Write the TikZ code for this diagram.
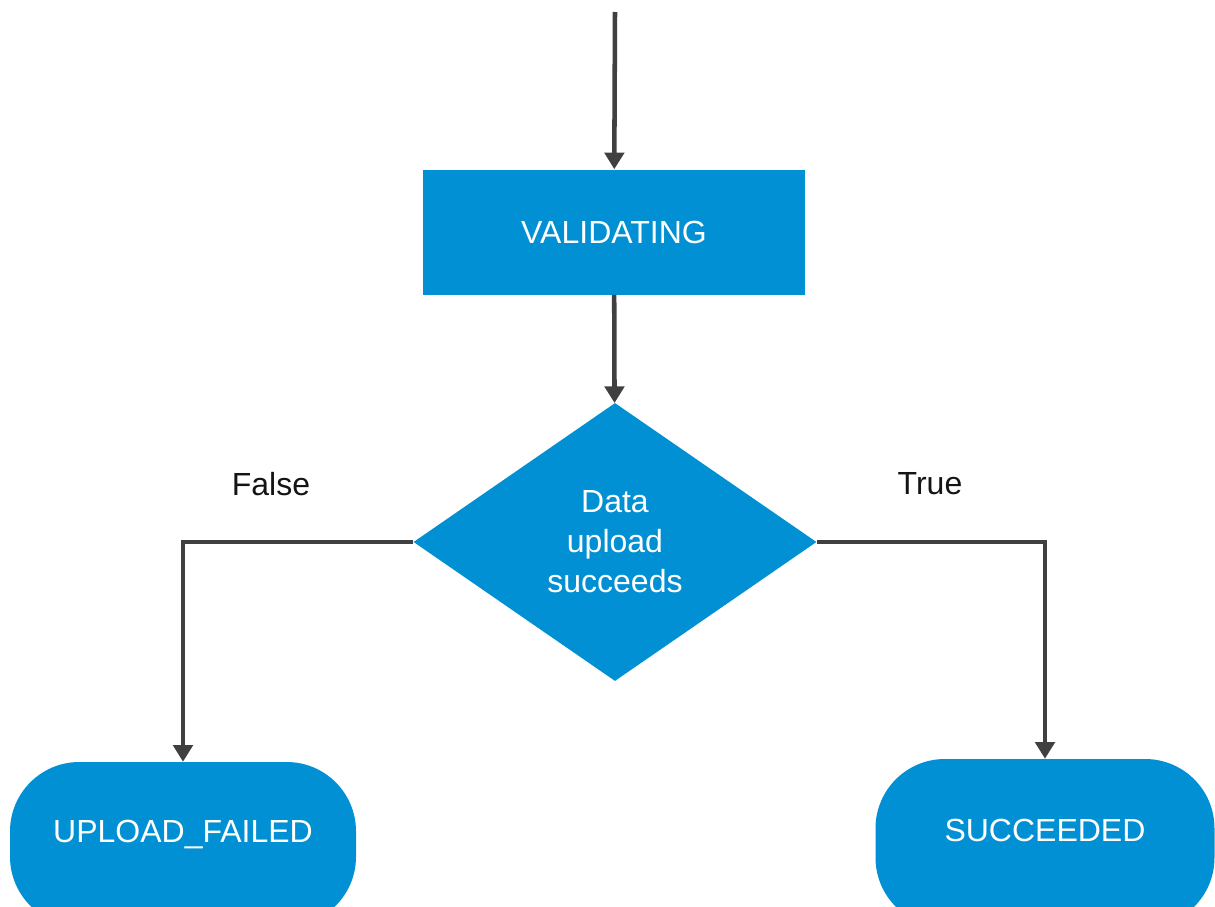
\documentclass[tikz,border=0pt]{standalone}
\usepackage{fontspec}
\setmainfont{Liberation Sans}
\usetikzlibrary{arrows.meta,shapes.geometric}

\begin{document}
\begin{tikzpicture}[x=0.75pt,y=0.75pt,yscale=-1,xscale=1,
  statebox/.style={fill={rgb, 255:red, 0; green, 144; blue, 211 }, text=white, inner sep=0.75pt, font=\fontsize{24}{30}\selectfont},
  decision/.style={statebox, diamond, align=center, inner sep=0pt},
  endbox/.style={statebox, rounded corners=52pt, text height=17pt, text depth=19pt},
  flow/.style={draw={rgb, 255:red, 64; green, 64; blue, 64 }, line width=3.4pt, line join=miter, -{Triangle[length=12.5pt,width=14.5pt]}},
  lbl/.style={text={rgb, 255:red, 20; green, 20; blue, 20 }, inner sep=0.75pt, font=\fontsize{24}{30}\selectfont}]
%set diagram left start at 0, and has height of 907
\useasboundingbox (0,0) rectangle (1215,907);
\clip (0,0) rectangle (1215,907);

%Shape: Rectangle
\node [statebox, minimum width=286.5pt, minimum height=93.75pt] (val) at (614,232) {VALIDATING};
%Shape: Diamond
\node [decision, minimum width=302.25pt, minimum height=208.5pt] (dec) at (615,542) {Data\\upload\\succeeds};
%Shape: Rounded Rectangle
\node [endbox, minimum width=259.5pt, minimum height=123pt] (fail) at (183,844) {UPLOAD\_FAILED};
%Shape: Rounded Rectangle
\node [endbox, minimum width=254.25pt, minimum height=126pt] (done) at (1045,843) {SUCCEEDED};

%Straight Lines
\coordinate (start) at (615,12);
\draw [flow] (start) -- (val);
\draw [flow] (val) -- (dec);
\draw [flow] (dec.west) -| (fail.north);
\draw [flow] (dec.east) -| (done.north);

% Text Node
\node [lbl] (false) at (271,484) {False};
% Text Node
\node [lbl] (true) at (930,484) {True};

\end{tikzpicture}
\end{document}
